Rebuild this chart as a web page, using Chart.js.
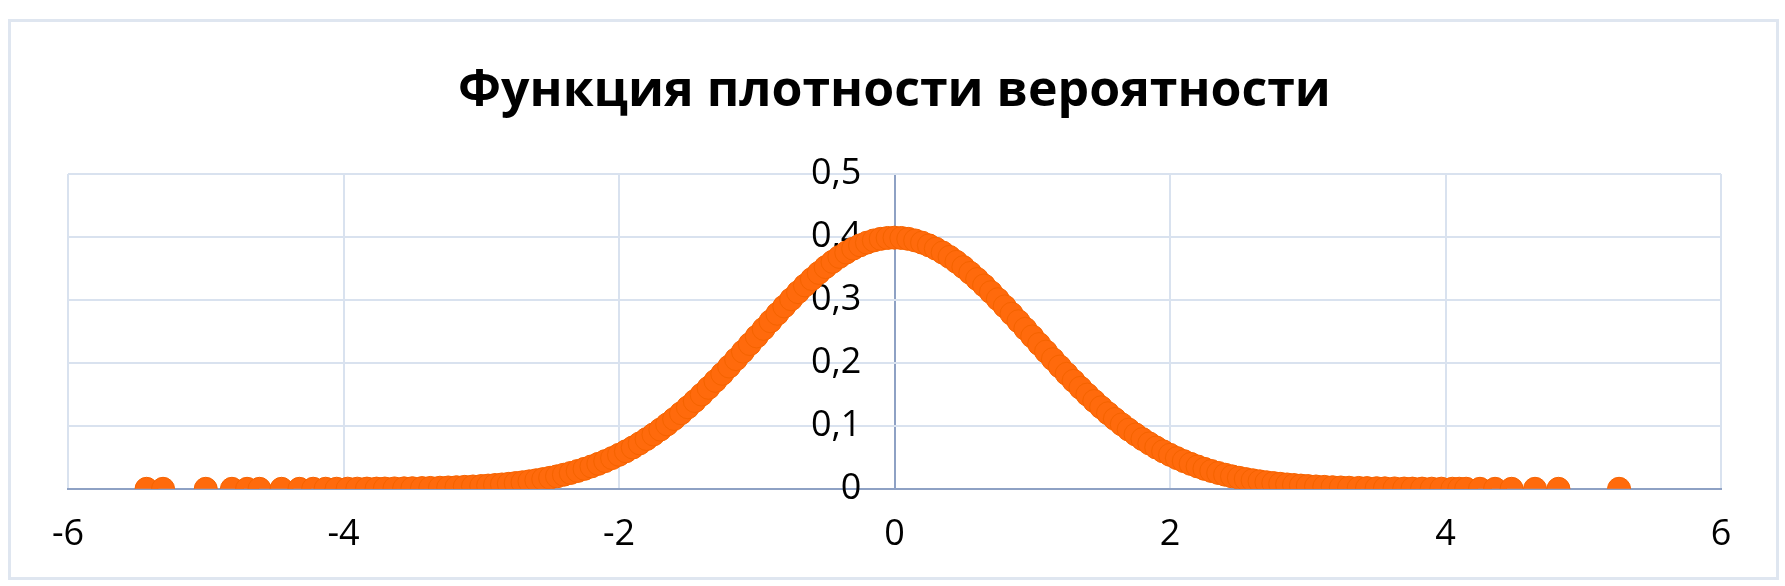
<!DOCTYPE html>
<html>
<head>
<meta charset="utf-8">
<script src="https://cdn.jsdelivr.net/npm/chart.js@4"></script>
<style>
  body { margin: 0; background: #fff; }
  #frame {
    position: absolute; left: 8px; top: 19px; width: 1765px; height: 555px;
    border: 3px solid #dfe6f0;
  }
  #c { position: absolute; left: 0; top: 0; }
</style>
</head>
<body>
<div id="frame"></div>
<canvas id="c" width="1785" height="586"></canvas>
<script>
const chartTitle = "Функция плотности вероятности";

// x values of the sample points
const xs = [
  -5.43, -5.31, -5.00, -4.81, -4.70, -4.61, -4.45, -4.32, -4.22, -4.13,
  -4.05, -3.97, -3.90, -3.83, -3.76, -3.70, -3.63, -3.56, -3.50, -3.43,
  -3.37, -3.30, -3.24, -3.18, -3.12, -3.06,
  -3.00, -2.95, -2.90, -2.85, -2.80, -2.75, -2.70, -2.65, -2.60, -2.55,
  -2.50, -2.45, -2.40, -2.35, -2.30, -2.25, -2.20, -2.15, -2.10, -2.05,
  -2.00, -1.95, -1.90, -1.85, -1.80, -1.75, -1.70, -1.65, -1.60, -1.55,
  -1.50, -1.45, -1.40, -1.35, -1.30, -1.25, -1.20, -1.15, -1.10, -1.05,
  -1.00, -0.95, -0.90, -0.85, -0.80, -0.75, -0.70, -0.65, -0.60, -0.55,
  -0.50, -0.45, -0.40, -0.35, -0.30, -0.25, -0.20, -0.15, -0.10, -0.05,
  0.00,
  0.05, 0.10, 0.15, 0.20, 0.25, 0.30, 0.35, 0.40, 0.45, 0.50,
  0.55, 0.60, 0.65, 0.70, 0.75, 0.80, 0.85, 0.90, 0.95, 1.00,
  1.05, 1.10, 1.15, 1.20, 1.25, 1.30, 1.35, 1.40, 1.45, 1.50,
  1.55, 1.60, 1.65, 1.70, 1.75, 1.80, 1.85, 1.90, 1.95, 2.00,
  2.05, 2.10, 2.15, 2.20, 2.25, 2.30, 2.35, 2.40, 2.45, 2.50,
  2.55, 2.60, 2.65, 2.70, 2.75, 2.80, 2.85, 2.90, 2.95, 3.00,
  3.06, 3.12, 3.18, 3.24, 3.30, 3.37, 3.43, 3.50, 3.56, 3.63,
  3.70, 3.76, 3.83, 3.90, 3.97, 4.05, 4.10, 4.15, 4.25, 4.36,
  4.48, 4.65, 4.82, 5.26
];

// density values at those points
const ys = [
  0.0000, 0.0000, 0.0000, 0.0000, 0.0000, 0.0000, 0.0000, 0.0000, 0.0001, 0.0001,
  0.0001, 0.0002, 0.0002, 0.0003, 0.0003, 0.0004, 0.0006, 0.0007, 0.0009, 0.0011,
  0.0014, 0.0017, 0.0021, 0.0025, 0.0031, 0.0037,
  0.0044, 0.0051, 0.0060, 0.0069, 0.0079, 0.0091, 0.0104, 0.0119, 0.0136, 0.0154,
  0.0175, 0.0198, 0.0224, 0.0252, 0.0283, 0.0317, 0.0355, 0.0396, 0.0440, 0.0488,
  0.0540, 0.0596, 0.0656, 0.0721, 0.0790, 0.0863, 0.0940, 0.1023, 0.1109, 0.1200,
  0.1295, 0.1394, 0.1497, 0.1604, 0.1714, 0.1826, 0.1942, 0.2059, 0.2179, 0.2299,
  0.2420, 0.2541, 0.2661, 0.2780, 0.2897, 0.3011, 0.3123, 0.3230, 0.3332, 0.3429,
  0.3521, 0.3605, 0.3683, 0.3752, 0.3814, 0.3867, 0.3910, 0.3945, 0.3970, 0.3984,
  0.3989,
  0.3984, 0.3970, 0.3945, 0.3910, 0.3867, 0.3814, 0.3752, 0.3683, 0.3605, 0.3521,
  0.3429, 0.3332, 0.3230, 0.3123, 0.3011, 0.2897, 0.2780, 0.2661, 0.2541, 0.2420,
  0.2299, 0.2179, 0.2059, 0.1942, 0.1826, 0.1714, 0.1604, 0.1497, 0.1394, 0.1295,
  0.1200, 0.1109, 0.1023, 0.0940, 0.0863, 0.0790, 0.0721, 0.0656, 0.0596, 0.0540,
  0.0488, 0.0440, 0.0396, 0.0355, 0.0317, 0.0283, 0.0252, 0.0224, 0.0198, 0.0175,
  0.0154, 0.0136, 0.0119, 0.0104, 0.0091, 0.0079, 0.0069, 0.0060, 0.0051, 0.0044,
  0.0037, 0.0031, 0.0025, 0.0021, 0.0017, 0.0014, 0.0011, 0.0009, 0.0007, 0.0006,
  0.0004, 0.0003, 0.0003, 0.0002, 0.0002, 0.0001, 0.0001, 0.0001, 0.0000, 0.0000,
  0.0000, 0.0000, 0.0000, 0.0000
];

const xTicks = [-6, -4, -2, 0, 2, 4, 6];
const yTicks = ["0", "0,1", "0,2", "0,3", "0,4", "0,5"];

const points = xs.map((x, i) => ({ x: x, y: ys[i] }));

const tickFont = { family: "'Open Sans', sans-serif", size: 36 };
const gridColor = "#d9e2ef";
const axisColor = "#8ea1c4";

new Chart(document.getElementById("c"), {
  type: "scatter",
  data: {
    datasets: [{
      data: points,
      backgroundColor: "#ff6a0c",
      borderColor: "#f56300",
      borderWidth: 1,
      pointRadius: 11.5,
      pointHoverRadius: 11.5
    }]
  },
  options: {
    responsive: false,
    animation: false,
    layout: { padding: { left: 68, right: 64, top: 0, bottom: 6 } },
    plugins: {
      legend: { display: false },
      tooltip: { enabled: false },
      title: {
        display: true,
        text: chartTitle,
        color: "#000",
        font: { family: "'Open Sans', sans-serif", size: 50, weight: "bold", lineHeight: 1.2 },
        padding: { top: 62, bottom: 52 }
      }
    },
    scales: {
      x: {
        type: "linear",
        min: -6, max: 6,
        afterBuildTicks: axis => { axis.ticks = xTicks.map(v => ({ value: v })); },
        // the vertical line at x = 0 is the darker value axis
        grid: {
          color: ctx => (ctx.tick && ctx.tick.value === 0 ? axisColor : gridColor),
          lineWidth: 2,
          drawTicks: false
        },
        border: { color: axisColor, width: 2 },
        ticks: { color: "#000", font: tickFont, padding: 24, callback: v => String(v) }
      },
      y: {
        type: "linear",
        // labels sit a little left of the x = 0 line
        position: { x: -0.24 },
        min: 0, max: 0.5,
        afterBuildTicks: axis => { axis.ticks = yTicks.map((t, i) => ({ value: i / 10 })); },
        grid: { color: gridColor, lineWidth: 2, drawTicks: false },
        border: { display: false },
        ticks: { color: "#000", font: tickFont, padding: 0, callback: (v, i) => yTicks[i] }
      }
    }
  }
});
</script>
</body>
</html>
